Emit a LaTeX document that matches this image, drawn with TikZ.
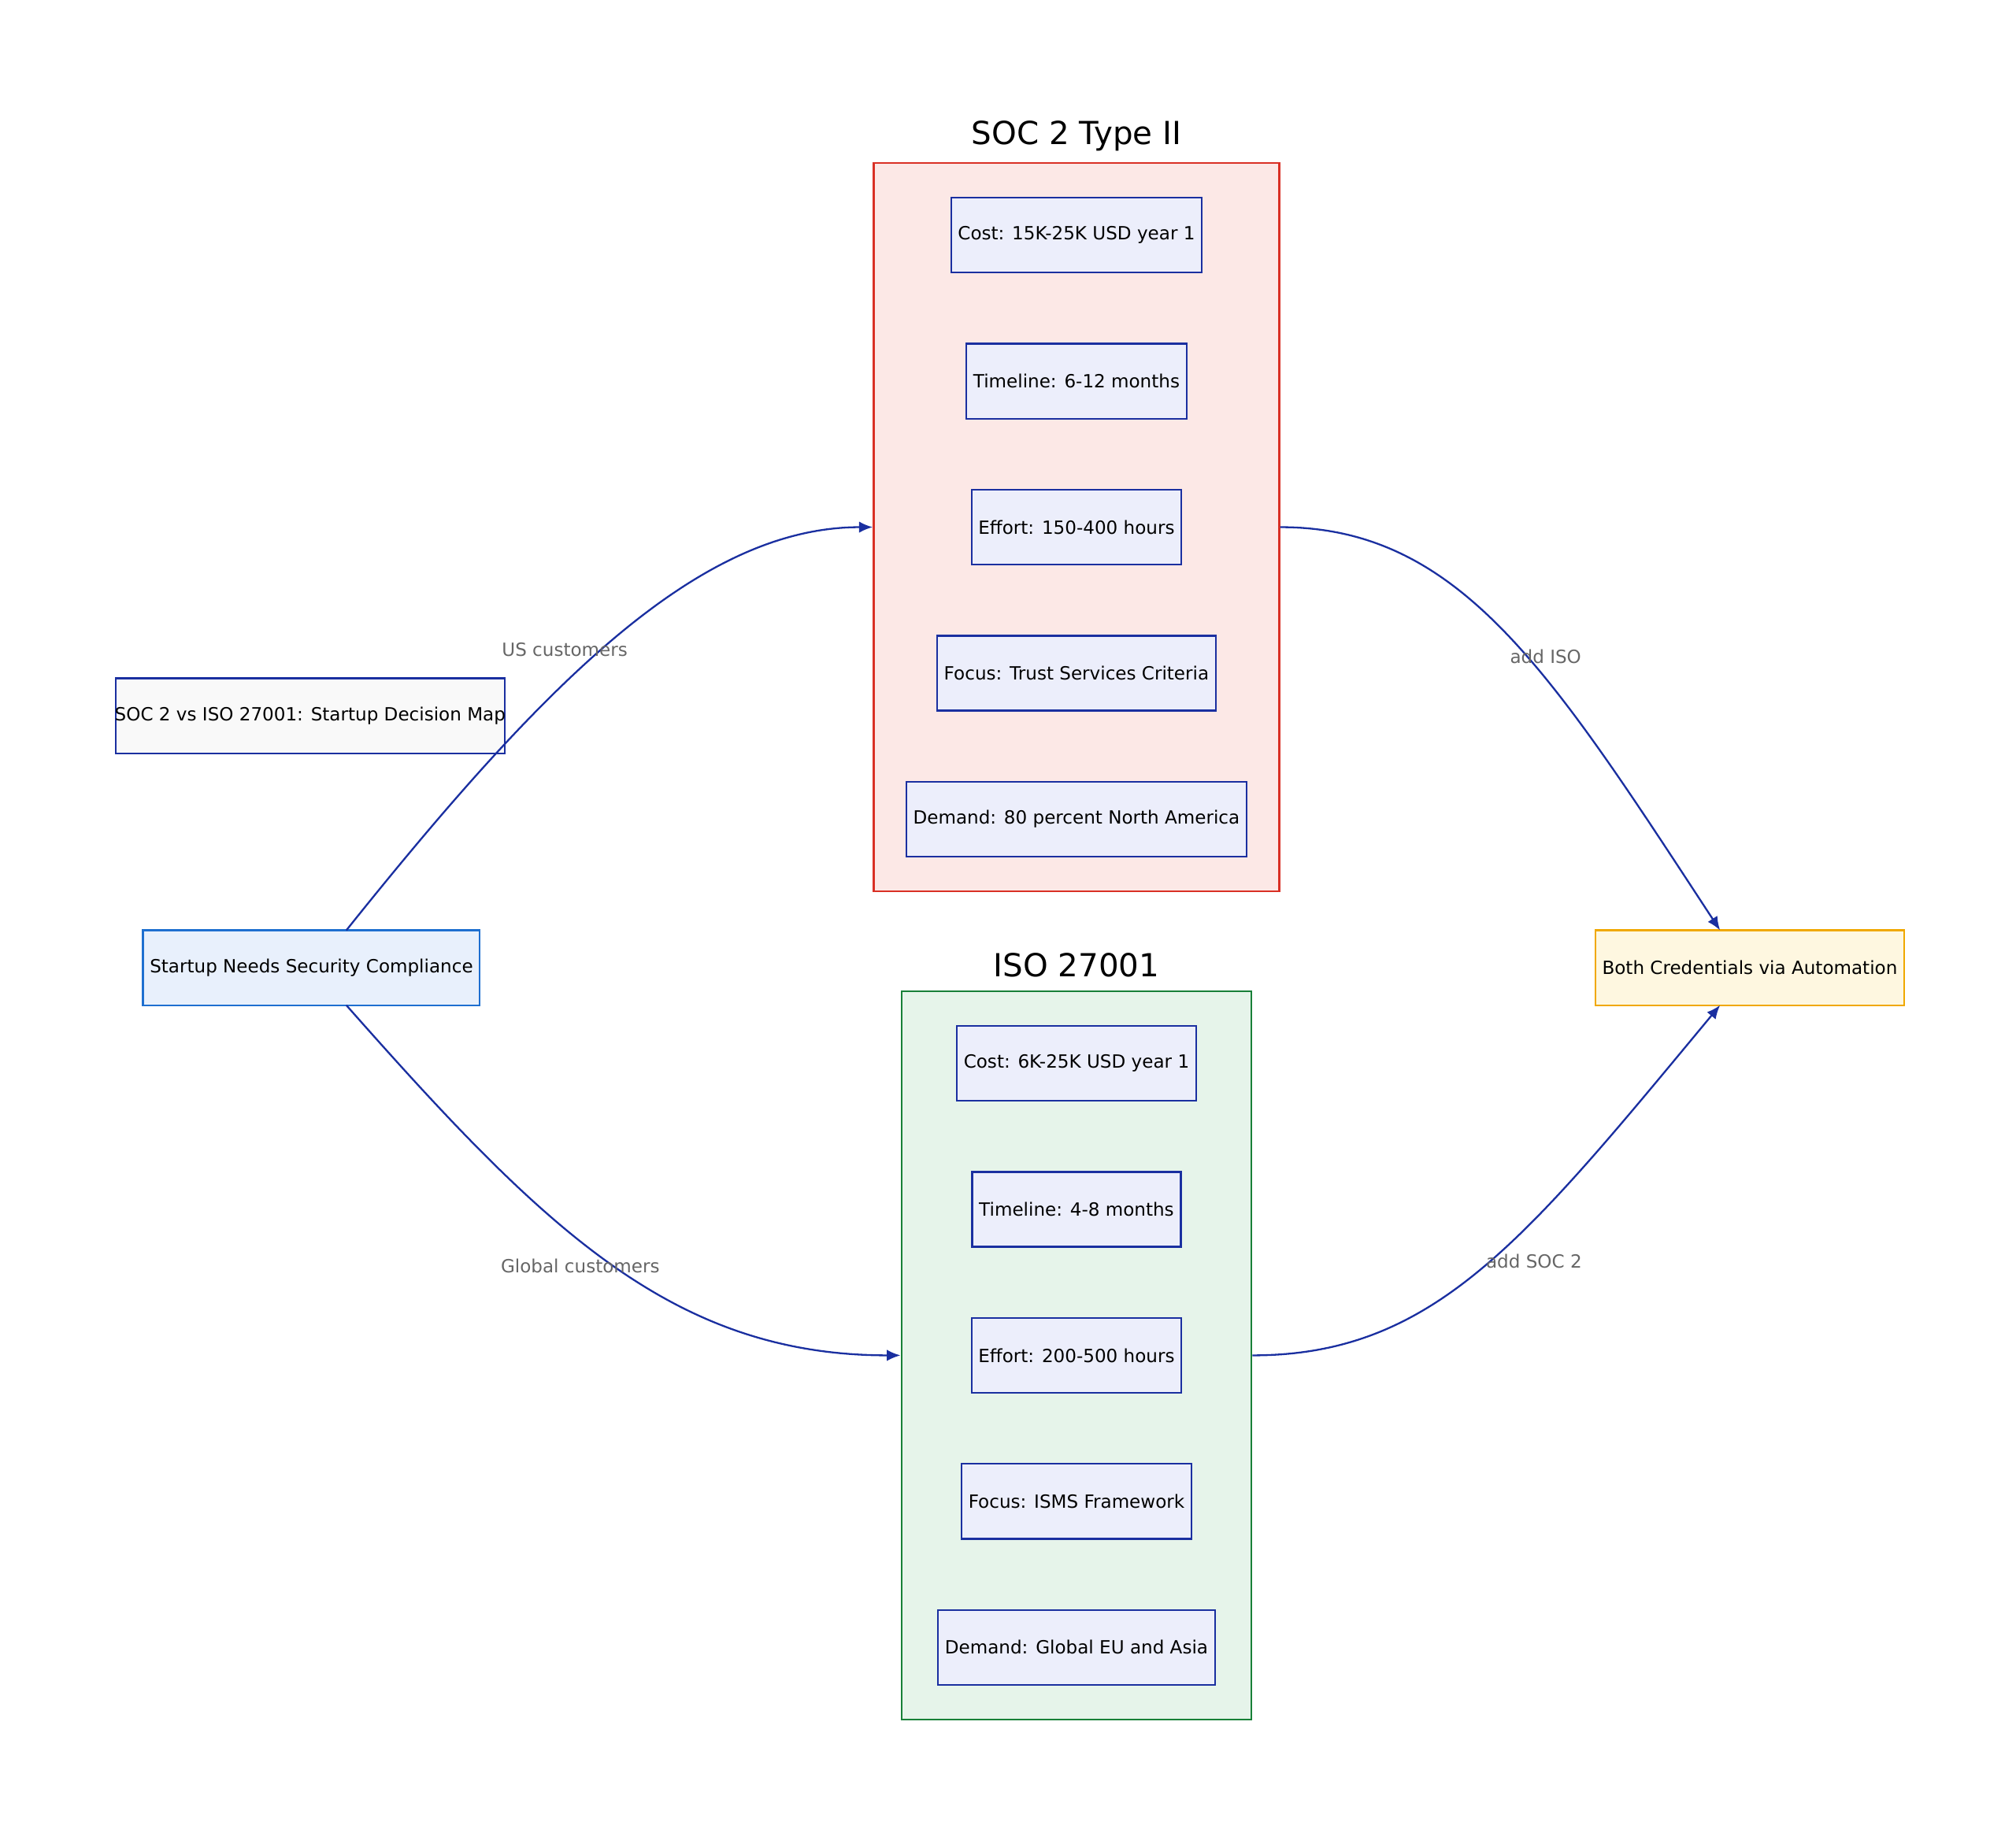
\documentclass[tikz,border=0pt]{standalone}
\usepackage{fontspec}
\setmainfont{DejaVu Sans}
\usetikzlibrary{positioning, shapes, arrows.meta}
\definecolor{navy}{HTML}{1A2FA0}
\definecolor{boxfill}{HTML}{ECEEFB}
\definecolor{socfill}{HTML}{FCE8E6}
\definecolor{socline}{HTML}{D93025}
\definecolor{isofill}{HTML}{E6F4EA}
\definecolor{isoline}{HTML}{188038}
\definecolor{startfill}{HTML}{E8F0FC}
\definecolor{startline}{HTML}{1E6FD0}
\definecolor{bothfill}{HTML}{FEF7E0}
\definecolor{bothline}{HTML}{F0A800}
\definecolor{lblgray}{HTML}{666666}

\begin{document}
\begin{tikzpicture}[
    x=0.02cm, y=-0.02cm,
    font=\fontsize{8}{10}\selectfont,
    fact/.style={rectangle, draw=navy, thick, fill=boxfill, minimum height=1.16cm, inner xsep=3pt},
    cluster/.style={rectangle, draw, thick},
    heading/.style={font=\fontsize{14}{16}\selectfont},
    edgelabel/.style={text=lblgray, font=\fontsize{8}{10}\selectfont},
    flow/.style={-{Latex[length=6pt,width=5pt]}, navy, thick}
]
\useasboundingbox (0,0) rectangle (1560,1415);

% Clusters
\node[cluster, draw=socline, fill=socfill, minimum width=6.28cm, minimum height=11.28cm] (soc) at (833,408) {};
\node[heading] (soctitle) at (833,105) {SOC 2 Type II};
\node[cluster, draw=isoline, fill=isofill, minimum width=5.42cm, minimum height=11.28cm] (iso) at (833,1049) {};
\node[heading] (isotitle) at (833,747) {ISO 27001};

% SOC 2 facts
\node[fact] (soccost) at (833,182) {Cost: 15K-25K USD year 1};
\node[fact] (soctime) at (833,295) {Timeline: 6-12 months};
\node[fact] (soceffort) at (833,408) {Effort: 150-400 hours};
\node[fact] (socfocus) at (833,521) {Focus: Trust Services Criteria};
\node[fact] (socdemand) at (833,634) {Demand: 80 percent North America};

% ISO facts
\node[fact] (isocost) at (833,823) {Cost: 6K-25K USD year 1};
\node[fact] (isotime) at (833,936) {Timeline: 4-8 months};
\node[fact] (isoeffort) at (833,1049) {Effort: 200-500 hours};
\node[fact] (isofocus) at (833,1162) {Focus: ISMS Framework};
\node[fact] (isodemand) at (833,1275) {Demand: Global EU and Asia};

% Outer nodes
\node[fact, fill=gray!5, inner xsep=0pt] (title) at (240,554) {\makebox[6.02cm]{SOC 2 vs ISO 27001: Startup Decision Map}};
\node[fact, draw=startline, fill=startfill] (start) at (241,749) {Startup Needs Security Compliance};
\node[fact, draw=bothline, fill=bothfill] (both) at (1354,749) {Both Credentials via Automation};

% Edges
\draw[flow] (268,720) .. controls (420,530) and (540,408) .. (soc.west);
\node[edgelabel] (uslbl) at (437,503) {US customers};
\draw[flow] (268,778) .. controls (420,950) and (520,1049) .. (iso.west);
\node[edgelabel] (globlbl) at (449,980) {Global customers};
\draw[flow] (soc.east) .. controls (1130,408) and (1200,520) .. (1331,720);
\node[edgelabel] (isolbl) at (1196,508) {add ISO};
\draw[flow] (iso.east) .. controls (1110,1049) and (1180,960) .. (1331,778);
\node[edgelabel] (soclbl) at (1187,976) {add SOC 2};
\end{tikzpicture}
\end{document}
